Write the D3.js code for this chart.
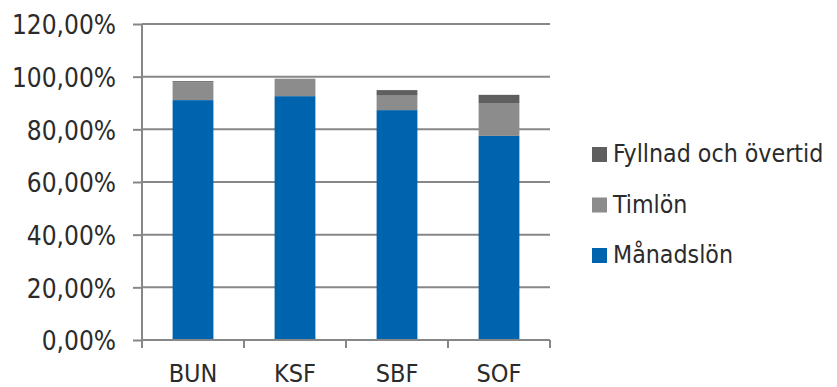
<!DOCTYPE html>
<html>
<head>
<meta charset="utf-8">
<script src="https://cdn.jsdelivr.net/npm/d3@7"></script>
<style>
  html, body { margin: 0; padding: 0; background: #fff; }
  svg text { font-family: "DejaVu Sans Condensed", "DejaVu Sans", sans-serif; font-stretch: condensed; fill: #2b2b2b; }
</style>
</head>
<body>
<svg id="chart" width="837" height="387"></svg>
<script>
var categories = ["BUN", "KSF", "SBF", "SOF"];
var seriesNames = ["Månadslön", "Timlön", "Fyllnad och övertid"];
var manadslon = [0.911, 0.926, 0.873, 0.775];
var timlon = [0.067, 0.065, 0.055, 0.125];
var fyllnad = [0.005, 0.001, 0.021, 0.031];
var yTicks = [0, 0.2, 0.4, 0.6, 0.8, 1.0, 1.2];
var colors = ["#0063ae", "#8c8c8c", "#5f5f5f"];

var svg = d3.select("#chart"),
  margin = { top: 24, right: 287, bottom: 47, left: 142 },
  width = 837 - margin.left - margin.right,
  height = 387 - margin.top - margin.bottom,
  g = svg.append("g")
    .attr("transform", "translate(" + margin.left + "," + margin.top + ")"),
  rows = categories.map(function(c, i) {
    return { cat: c, "Månadslön": manadslon[i], "Timlön": timlon[i], "Fyllnad och övertid": fyllnad[i] };
  }),
  stacked = d3.stack().keys(seriesNames)(rows),
  y = d3.scaleLinear()
    .domain([0, 1.2])
    .range([height, 0]),
  xCat = d3.scaleBand()
    .domain(categories)
    .range([0, width]),
  xBar = d3.scaleBand()
    .domain(categories)
    .range([0, width])
    .paddingInner(0.6)
    .paddingOuter(0.3),
  fmt = function(d) { return d3.format(".2f")(d * 100).replace(".", ",") + "%"; },
  gridColor = "#878787";

// gridlines
g.append("g")
  .selectAll("line")
  .data(yTicks.slice(1))
  .enter()
  .append("line")
    .attr("x1", 0)
    .attr("x2", width)
    .attr("y1", y)
    .attr("y2", y)
    .attr("stroke", gridColor)
    .attr("stroke-width", 2);

// bars
g.append("g")
  .selectAll("g")
  .data(stacked)
  .enter()
  .append("g")
    .attr("fill", function(d, i) { return colors[i]; })
    .selectAll("rect")
    .data(function(d) { return d; })
    .enter()
    .append("rect")
      .attr("x", function(d) { return xBar(d.data.cat); })
      .attr("width", xBar.bandwidth())
      .attr("y", function(d) { return y(d[1]); })
      .attr("height", function(d) { return y(d[0]) - y(d[1]); });

// y axis
var yAxis = g.append("g")
  .call(d3.axisLeft(y).tickValues(yTicks).tickFormat(fmt).tickSize(9).tickPadding(17));
yAxis.select(".domain").attr("d", "M0,0V" + (height + 8));
yAxis.selectAll("line, .domain").attr("stroke", gridColor).attr("stroke-width", 2);
yAxis.selectAll("text").attr("font-size", "26px").attr("fill", "#2b2b2b").attr("dy", "0.38em")
  .attr("font-family", null);

// x axis
var xAxis = g.append("g")
  .attr("transform", "translate(0," + height + ")");
xAxis.append("line")
  .attr("x1", 0)
  .attr("x2", width)
  .attr("stroke", gridColor)
  .attr("stroke-width", 2);
xAxis.selectAll(".tick")
  .data(categories.concat([null]))
  .enter()
  .append("line")
    .attr("x1", function(d, i) { return i * xCat.step(); })
    .attr("x2", function(d, i) { return i * xCat.step(); })
    .attr("y2", 8)
    .attr("stroke", gridColor)
    .attr("stroke-width", 2);
xAxis.selectAll("text")
  .data(categories)
  .enter()
  .append("text")
    .attr("x", function(d) { return xCat(d) + xCat.bandwidth() / 2; })
    .attr("y", 42)
    .attr("text-anchor", "middle")
    .attr("font-size", "25px")
    .text(function(d) { return d; });

// legend, top item is the top of the stack
var legend = svg.append("g")
  .attr("transform", "translate(592,0)");
var items = legend.selectAll("g")
  .data(seriesNames.slice().reverse())
  .enter()
  .append("g")
    .attr("transform", function(d, i) { return "translate(0," + (162 + i * 50.5) + ")"; });
items.append("rect")
  .attr("y", -15)
  .attr("width", 15)
  .attr("height", 15)
  .attr("fill", function(d) { return colors[seriesNames.indexOf(d)]; });
items.append("text")
  .attr("x", 21)
  .attr("font-size", "24.7px")
  .text(function(d) { return d; });
</script>
</body>
</html>
